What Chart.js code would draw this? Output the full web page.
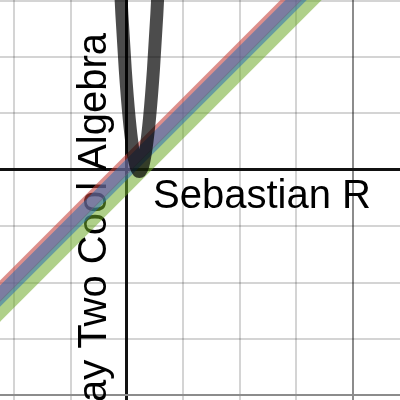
<!DOCTYPE html>
<html>
<head>
<meta charset="utf-8">
<script src="https://cdn.jsdelivr.net/npm/chart.js@4"></script>
<style>
  html, body { margin: 0; padding: 0; background: #fff; }
  canvas { display: block; }
</style>
</head>
<body>
<canvas id="graph" width="400" height="400"></canvas>
<script>
// values (grid unit = one square)
const lineX = [-3, 6];
const redY = [-2.9, 6.1];
const blueY = [-2.99, 6.01];
const greenY = [-3.255, 5.745];

const parabolaX = [-0.15, -0.09, -0.03, 0.04, 0.10, 0.16, 0.22, 0.28, 0.34, 0.40, 0.47, 0.53, 0.59];
const parabolaY = [3.94, 2.76, 1.78, 0.91, 0.39, 0.07, -0.03, 0.07, 0.39, 0.91, 1.78, 2.76, 3.94];

const labelMain = 'Sebastian R';
const labelSide = 'ay Two Cool Algebra';

function pts(xs, ys) {
    return xs.map((x, i) => ({ x: x, y: ys[i] }));
}

const textPlugin = {
    id: 'labels',
    beforeDatasetsDraw(chart) {
        const ctx = chart.ctx;
        ctx.save();
        ctx.fillStyle = '#000';
        ctx.font = '40px "Liberation Sans", Arial, sans-serif';
        ctx.textBaseline = 'alphabetic';
        ctx.textAlign = 'left';
        ctx.fillText(labelMain, 153, 208);

        ctx.translate(106, 33);
        ctx.rotate(-Math.PI / 2);
        ctx.textAlign = 'right';
        ctx.fillText(labelSide, 0, 0);
        ctx.restore();
    }
};

function gridColor(c) {
    const v = c.tick.value;
    if (v === 0) return '#111';
    if (v % 4 === 0) return '#8c8c8c';
    return 'rgba(0,0,0,0.17)';
}
function gridWidth(c) {
    return c.tick.value === 0 ? 3 : 2;
}

const ctx = document.getElementById('graph').getContext('2d');
new Chart(ctx, {
    type: 'line',
    data: {
        datasets: [
            {
                label: 'parabola',
                data: pts(parabolaX, parabolaY),
                borderColor: 'rgba(0,0,0,0.7)',
                borderWidth: 13,
                pointRadius: 0,
                cubicInterpolationMode: 'monotone',
                borderCapStyle: 'round',
                borderJoinStyle: 'round',
                fill: false
            },
            {
                label: 'blue',
                data: pts(lineX, blueY),
                borderColor: 'rgba(45,112,179,0.55)',
                borderWidth: 15,
                pointRadius: 0,
                fill: false
            },
            {
                label: 'red',
                data: pts(lineX, redY),
                borderColor: 'rgba(199,68,64,0.6)',
                borderWidth: 15,
                pointRadius: 0,
                fill: false
            },
            {
                label: 'green',
                data: pts(lineX, greenY),
                borderColor: 'rgba(110,170,40,0.55)',
                borderWidth: 15,
                pointRadius: 0,
                fill: false
            }
        ]
    },
    options: {
        responsive: false,
        animation: false,
        events: [],
        layout: { padding: 0 },
        plugins: {
            legend: { display: false },
            tooltip: { enabled: false }
        },
        scales: {
            x: {
                type: 'linear',
                min: -2.25,
                max: 4.84,
                border: { display: false },
                ticks: { display: false, stepSize: 1, includeBounds: false },
                grid: { color: gridColor, lineWidth: gridWidth, drawTicks: false },
                afterFit: s => { s.height = 0; }
            },
            y: {
                type: 'linear',
                min: -4.08,
                max: 3.01,
                border: { display: false },
                ticks: { display: false, stepSize: 1, includeBounds: false },
                grid: { color: gridColor, lineWidth: gridWidth, drawTicks: false },
                afterFit: s => { s.width = 0; }
            }
        }
    },
    plugins: [textPlugin]
});
</script>
</body>
</html>
